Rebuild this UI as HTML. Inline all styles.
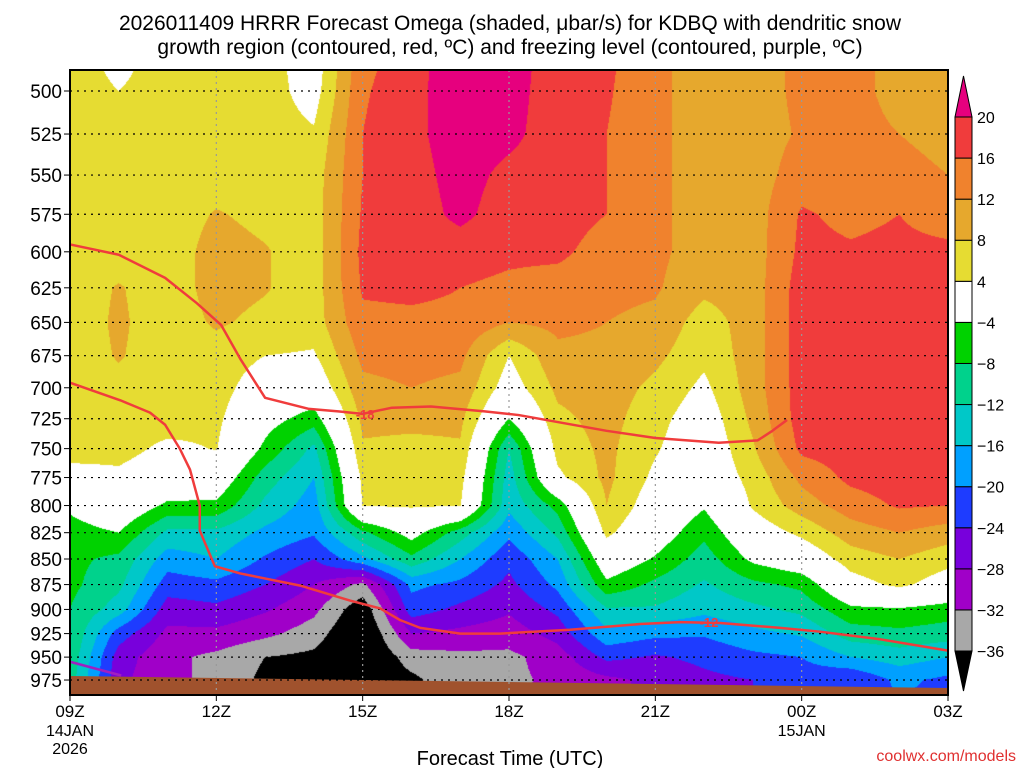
<!DOCTYPE html>
<html><head><meta charset="utf-8">
<style>
html,body{margin:0;padding:0;background:#fff;}
#wrap{position:relative;width:1024px;height:768px;overflow:hidden;font-family:"Liberation Sans",sans-serif;}
#cv{position:absolute;left:70px;top:70px;}
#ov{position:absolute;left:0;top:0;}
</style></head>
<body>
<div id="wrap">
<canvas id="cv" width="878" height="625"></canvas>
<svg id="ov" width="1024" height="768" xmlns="http://www.w3.org/2000/svg"></svg>
</div>
<script>
// ---- data ----
const hours = [0,1,2,3,4,5,6,7,8,9,10,11,12,13,14,15,16,17,18];
const pressures = [475,500,525,550,575,600,625,650,675,700,725,750,775,800,825,850,875,900,925,950,975,1000];
const omega00 = [6,6,6,6,6,6,6,6,6,6,6,6,2,-3,-6,-7,-7,-8,-8,-9,-10,-10];
const omega01 = [2,4,6,6,6,6,8.3,8.6,8.3,7,6,5.5,3,1,-4,-9,-11,-14,-22,-26,-27,-27];
const omega02 = [6,6,6,6,6,6,6,6,6,6,6,3,1,-5,-13,-18,-22,-26,-29,-31,-31,-31];
const omega03 = [6,6,6,6,8.3,9.5,9.5,8.5,6.5,6,5,4.2,0,-5,-13,-16,-21,-25,-29,-33,-33,-33];
const omega04 = [6,6,6,6,7,8.3,8.3,7,4,1,-2,-5,-10,-13,-17,-20.5,-24,-27.5,-31,-36,-37,-37];
const omega05 = [1,2,4.5,6,6,6,6,6,3.5,0,-6,-13,-16,-18,-19.5,-24,-28,-31,-34,-37,-38,-38];
const omega06 = [14.5,15.5,16,16,16.5,17,16.5,15,13,11,9,7.5,5,4.2,-9,-17,-33,-39,-41,-41,-40,-38];
const omega07 = [18,18.5,19,18.5,18,18,17,15,13.5,12,9,7,5.5,4.5,-2,-9,-19,-22,-28,-34,-37,-36];
const omega08 = [23,23,22,21.5,21,18,16,15,13,11,9,7.5,5.5,4.2,-10,-16,-21,-25,-29,-33,-33,-32];
const omega09 = [22,21.5,21,19,18,17,15,12,4,1.5,-4,-12,-14,-15,-19,-23,-25,-27.5,-30,-33,-33,-32];
const omega10 = [18,18,18,18,18,17,14,13,11,9,7,5.5,3,-6.5,-11,-16,-19,-23,-26.5,-30,-31,-31];
const omega11 = [17,16.5,16,16,16,14,13,12,11,10,9.5,9,9,8,5,0,-5,-12.5,-17,-23,-29,-29];
const omega12 = [13,13,13,13,13,13,12.5,11,9,7,5.5,4.5,3,1,-1,-4.5,-9,-12.5,-19,-24.5,-27,-27];
const omega13 = [10,10,10,10,10,10,9,6,5,3,1,0,0,-3.5,-7,-10,-12.5,-15,-19.5,-23,-25,-25];
const omega14 = [10,10,10,10,10,10,10,10,10,10,9,7.5,5.5,4.5,1,-3,-9,-13,-17,-21,-24,-24];
const omega15 = [13,13,12.5,14,16.5,17,18,18,18,18,18,17,13,10,5,0,-7,-11,-15.5,-20,-22,-22];
const omega16 = [13,13,13,13,15,16.5,17,18,18,18,18,18,17,14,10,6,2,-5,-10,-16,-24,-24];
const omega17 = [11,11,12,14,16,17,18,18,18,18,18,18,18,16.5,12,8,5,-4.5,-9,-14,-19,-20];
const omega18 = [10,10,10,12,14,17,18,18,18,18,18,18,18,16,10,5.5,1.5,-6,-10,-16,-21,-22];
const omegaCols = [omega00,omega01,omega02,omega03,omega04,omega05,omega06,omega07,omega08,omega09,omega10,omega11,omega12,omega13,omega14,omega15,omega16,omega17,omega18];
const levels = [-36,-32,-28,-24,-20,-16,-12,-8,-4,4,8,12,16,20];
const levelLabels = ["-36","-32","-28","-24","-20","-16","-12","-8","-4","4","8","12","16","20"];
const colors = ["#000000","#a8a8a8","#a000c8","#7800dc","#1e3cff","#00a0ff","#00c8c8","#00d28c","#00d200","#ffffff","#e6dc32","#e6a82d","#f0822d","#f03c3c","#e6007e"];
const yTicks = [500,525,550,575,600,625,650,675,700,725,750,775,800,825,850,875,900,925,950,975];
const xTickHours = [0,3,6,9,12,15,18];
const xTickLabels = ["09Z","12Z","15Z","18Z","21Z","00Z","03Z"];
// contour lines: [hour, pressure]
const dgzUpperH = [0,1,1.95,2.6,3.1,3.5,4.0,4.9,5.5,6.0,6.6,7.4,8.5,9.2,11.0,12.0,13.3,14.1,14.4,14.7];
const dgzUpperP = [595,602,618,636,652,678,708,717,719,721,716,715,719,722,735,741,745,743,735,726];
const dgzLowerH = [0,1.03,1.64,1.95,2.25,2.46,2.66,2.66,2.77,2.97,3.49,4.72,5.74,6.36,6.77,7.18,8.0,8.82,10.25,11.69,12.51,13.33,14.56,15.38,16.61,18];
const dgzLowerP = [696,710,720,730,750,768,800,823,835,857,864,876,891,899,911,919,925,925,921,915,913,914,919,923,931,943];
const frzH = [0,1.05];
const frzP = [955,970];
// ---- axes ----
const X0=70, X1=948, Y0=70, Y1=695;
function xOf(h){ return 70 + h*(878/18); }
function yOf(p){ return 91 + 882*Math.log(p/500); }
// ---- shading ----
(function(){
  const cv=document.getElementById('cv'); const ctx=cv.getContext('2d');
  const W=878,H=625; const img=ctx.createImageData(W,H);
  const rgb=colors.map(c=>[parseInt(c.substr(1,2),16),parseInt(c.substr(3,2),16),parseInt(c.substr(5,2),16)]);
  const rowY=pressures.map(yOf);
  for(let j=0;j<H;j++){
    const y=Y0+j+0.5;
    let r=0; while(r<rowY.length-2 && rowY[r+1]<y) r++;
    let t=(y-rowY[r])/(rowY[r+1]-rowY[r]); t=Math.max(0,Math.min(1,t));
    for(let i=0;i<W;i++){
      const h=(i+0.5)*18/878;
      let c=Math.min(17,Math.floor(h)); const u=h-c;
      const a=omegaCols[c], b=omegaCols[c+1];
      const v=(a[r]*(1-t)+a[r+1]*t)*(1-u)+(b[r]*(1-t)+b[r+1]*t)*u;
      let k=0; while(k<levels.length && v>=levels[k]) k++;
      const col=rgb[k]; const o=(j*W+i)*4;
      img.data[o]=col[0];img.data[o+1]=col[1];img.data[o+2]=col[2];img.data[o+3]=255;
    }
  }
  ctx.putImageData(img,0,0);
})();
// ---- overlay ----
const NS="http://www.w3.org/2000/svg";
const svg=document.getElementById('ov');
function mk(tag,attrs,parent){const e=document.createElementNS(NS,tag);for(const k in attrs)e.setAttribute(k,attrs[k]);(parent||svg).appendChild(e);return e;}
function txt(s,attrs){const e=mk('text',attrs);e.textContent=s;return e;}
// ground
let gp=mk('polygon',{points:`${X0},676 ${X1},688 ${X1},${Y1} ${X0},${Y1}`,fill:'#a0522d'});


// grid
yTicks.forEach(p=>{
  const y=yOf(p);
  const l=mk('line',{x1:X0,x2:X1,y1:y,y2:y,stroke:'#000','stroke-width':1.2,'stroke-dasharray':'2,5'});
  
  
  mk('line',{x1:X0-6,x2:X0,y1:y,y2:y,stroke:'#000'});
  const t=txt(String(p),{x:62,y:y+7,'text-anchor':'end','font-size':19,fill:'#000'});
  
  
});
xTickHours.forEach((h,i)=>{
  const x=xOf(h);
  if(i>0&&i<xTickHours.length-1){
    const l=mk('line',{x1:x,x2:x,y1:Y0,y2:Y1,stroke:'#999','stroke-width':1.2,'stroke-dasharray':'2,4'});
    
    
  }
  mk('line',{x1:x,x2:x,y1:Y1,y2:Y1+6,stroke:'#000'});
  const t=txt(xTickLabels[i],{x:x,y:717,'text-anchor':'middle','font-size':17,fill:'#000'});
  
  
});
function line(H,P,color,w,name){
  const pts=H.map((h,i)=>xOf(h)+','+yOf(P[i])).join(' ');
  const e=mk('polyline',{points:pts,fill:'none',stroke:color,'stroke-width':w,'stroke-linejoin':'round'});
  
  
}
line(dgzUpperH,dgzUpperP,'#f03c3c',2.5,'dgz-contour-minus18');
line(dgzLowerH,dgzLowerP,'#f03c3c',2.5,'dgz-contour-minus12');
line(frzH,frzP,'#a020c0',2.5,'freezing-level-contour');
let l1=txt('-18',{x:xOf(6.05),y:yOf(721)+5,'text-anchor':'middle','font-size':13,'font-weight':'bold',fill:'#f03c3c'});


let l2=txt('-12',{x:xOf(13.1),y:yOf(913)+5,'text-anchor':'middle','font-size':13,'font-weight':'bold',fill:'#f03c3c'});


// frame
let fr=mk('rect',{x:X0,y:Y0,width:X1-X0,height:Y1-Y0,fill:'none',stroke:'#000','stroke-width':2});


// colorbar
const CB0=955,CB1=972,cbTop=117,step=(651-117)/13;
levels.forEach((lv,i)=>{
  if(i<levels.length-1){
    const yb=651-i*step;
    const r=mk('rect',{x:CB0,y:yb-step,width:CB1-CB0,height:step,fill:colors[i+1],stroke:'#000','stroke-width':1});
    
    
  }
  const t=txt(levelLabels[i].replace('-','\u2212'),{x:977,y:651-i*step+6,'font-size':16,fill:'#000'});
  
  
});
let tu=mk('polygon',{points:`${CB0},${cbTop} ${CB1},${cbTop} ${(CB0+CB1)/2},76`,fill:colors[14],stroke:'#000'});


let td=mk('polygon',{points:`${CB0},651 ${CB1},651 ${(CB0+CB1)/2},691`,fill:colors[0],stroke:'#000'});


// titles
let t1=txt('2026011409 HRRR Forecast Omega (shaded, \u03BCbar/s) for KDBQ with dendritic snow',{x:510,y:30,'text-anchor':'middle','font-size':21,fill:'#000'});


let t2=txt('growth region (contoured, red, \u00BAC) and freezing level (contoured, purple, \u00BAC)',{x:510,y:54,'text-anchor':'middle','font-size':21,fill:'#000'});


let d1=txt('14JAN',{x:70,y:736,'text-anchor':'middle','font-size':16,fill:'#000'});


let d2=txt('2026',{x:70,y:754,'text-anchor':'middle','font-size':16,fill:'#000'});


let d3=txt('15JAN',{x:xOf(15),y:736,'text-anchor':'middle','font-size':16,fill:'#000'});


let xt=txt('Forecast Time (UTC)',{x:510,y:765,'text-anchor':'middle','font-size':20,fill:'#000'});


let cr=txt('coolwx.com/models',{x:1016,y:761,'text-anchor':'end','font-size':16,fill:'#e03030'});


</script>
</body></html>
